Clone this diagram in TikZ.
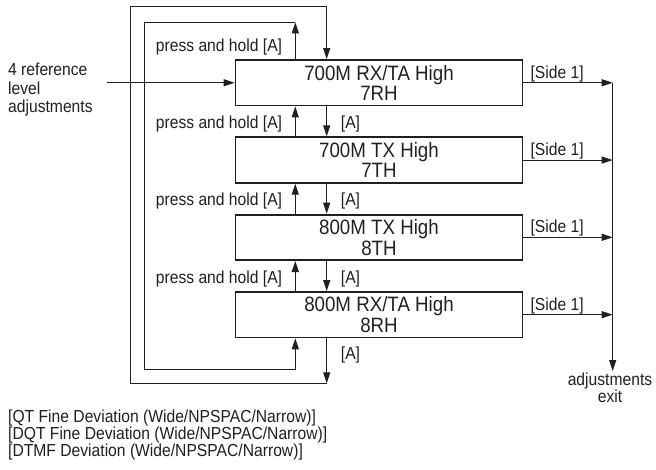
\documentclass[tikz,border=0pt]{standalone}
\usepackage{fontspec}
\setmainfont{Liberation Sans}
\newfontfamily\narrowsans[FakeStretch=0.9]{Liberation Sans}
\usetikzlibrary{arrows.meta,positioning}
\definecolor{InkBlack}{RGB}{35,31,32}
\tikzset{
  modebox/.style={draw=InkBlack,line width=1.8pt,minimum width=287pt,
    minimum height=45.5pt,align=center,inner sep=0pt,text=InkBlack,
    font=\narrowsans\fontsize{20.8}{20.5}\selectfont},
  lbl/.style={inner sep=0pt,text=InkBlack,font=\narrowsans\fontsize{17.4}{17}\selectfont},
  arrow/.style={-{Triangle[length=11pt,width=7pt]},line width=1pt,InkBlack}
}

\begin{document}
\begin{tikzpicture}[x=1pt,y=-1pt,node distance=30pt]
  \useasboundingbox (0,0) rectangle (656,469);
  % mode boxes
  \node[modebox] (rh7) at (379,82.75) {700M RX/TA High\\7RH};
  \node[modebox,below=of rh7] (th7) {700M TX High\\7TH};
  \node[modebox,below=of th7] (th8) {800M TX High\\8TH};
  \node[modebox,below=of th8] (rh8) {800M RX/TA High\\8RH};
  % lanes and loop corners
  \coordinate (up) at (295.3,0);
  \coordinate (dn) at (326.7,0);
  \coordinate (ex) at (612.7,0);
  \coordinate (otl) at (130,6.7);
  \coordinate (obl) at (130,383.3);
  \coordinate (itl) at (144.3,22.3);
  \coordinate (ibl) at (144.3,369.3);
  % input
  \node[lbl,align=left,anchor=north west,font=\narrowsans\fontsize{17.4}{18.5}\selectfont]
    (refin) at (8,63) {4 reference\\level\\adjustments};
  \draw[arrow] (rh7.west -| refin.east) ++(14,0) -- (rh7.west);
  % outer loop
  \draw[arrow] (rh8.south -| dn) -- (obl -| dn);
  \draw[arrow] (obl -| dn) -- (obl) -- (otl) -| (rh7.north -| dn);
  % inner loop
  \draw[arrow] (rh7.north -| up) -- (itl -| up);
  \draw[arrow] (itl -| up) -- (itl) -- (ibl) -| (rh8.south -| up);
  \path (rh7.north -| up) ++(-13,-8) node[lbl,anchor=base east] (hold0) {press and hold [A]};
  % steps between boxes
  \foreach \a/\b [count=\i] in {rh7/th7,th7/th8,th8/rh8}{
    \draw[arrow] (\a.south -| dn) -- (\b.north -| dn);
    \draw[arrow] (\b.north -| up) -- (\a.south -| up);
    \path (\b.north -| up) ++(-13,-8) node[lbl,anchor=base east] (hold\i) {press and hold [A]};
    \path (\b.north -| dn) ++(14,-8) node[lbl,anchor=base west] (next\i) {[A]};
  }
  \path (rh8.south -| dn) ++(14,21) node[lbl,anchor=base west] (next4) {[A]};
  % exits
  \foreach \m in {rh7,th7,th8,rh8}{
    \draw[arrow] (\m.east) -- (\m.east -| ex);
    \path (\m.east) ++(7,-4.5) node[lbl,anchor=base west] (side\m) {[Side 1]};
  }
  \node[lbl,align=center,anchor=north,inner sep=2pt] (exit) at (610,371)
    {adjustments\\exit};
  \draw[arrow] (rh7.east -| ex) -- (ex |- exit.north);
  % notes
  \node[lbl,align=left,anchor=north west] (notes) at (8,410)
    {{[QT Fine Deviation (Wide/NPSPAC/Narrow)]}\\
     {[DQT Fine Deviation (Wide/NPSPAC/Narrow)]}\\
     {[DTMF Deviation (Wide/NPSPAC/Narrow)]}};
\end{tikzpicture}
\end{document}
